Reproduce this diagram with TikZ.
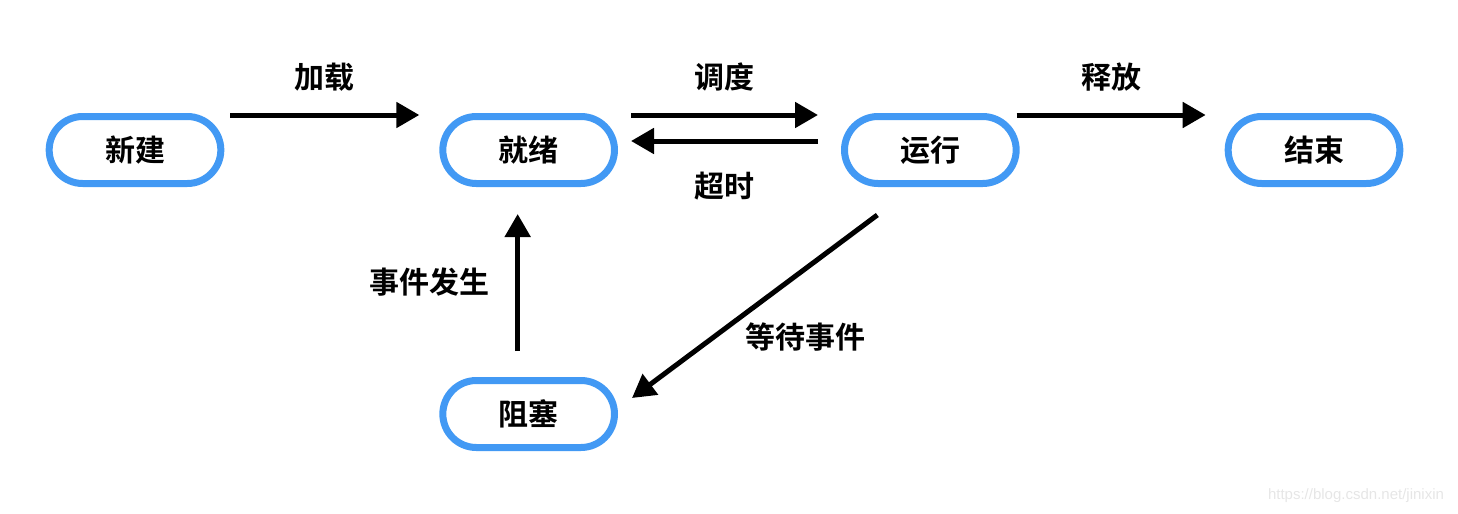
\documentclass[tikz,border=0pt]{standalone}
\usepackage{fontspec}
\setmainfont{Noto Sans CJK SC}[BoldFont={Noto Sans CJK SC Bold}]
\setsansfont{Liberation Sans}
\usetikzlibrary{arrows.meta,positioning,shapes.misc}
\definecolor{stateblue}{HTML}{4299F4}
\definecolor{wmgrey}{HTML}{E6E6E6}
\tikzset{
  stbox/.style={rounded rectangle, draw=stateblue, line width=3.5pt, fill=white, minimum width=92.5pt, minimum height=33.5pt, font=\fontsize{15pt}{18pt}\selectfont\bfseries},
  starrow/.style={-{Triangle[length=11.5pt, width=12.5pt]}, line width=2.5pt, black},
  stlabel/.style={font=\fontsize{15pt}{18pt}\selectfont\bfseries, inner sep=0pt},
}

\begin{document}
\begin{tikzpicture}
  \useasboundingbox (0,0) rectangle (729pt,-257pt);
  % states
  \node[stbox] (xinjian) at (67.5pt,-75pt) {新建};
  \node[stbox, right=107.5pt of xinjian] (jiuxu) {就绪};
  \node[stbox, right=111.5pt of jiuxu] (yunxing) {运行};
  \node[stbox, right=102.5pt of yunxing] (jieshu) {结束};
  \node[stbox, below=95pt of jiuxu] (zuse) {阻塞};
  % transitions
  \draw[starrow] ([xshift=3pt, yshift=17.5pt]xinjian.east) -- node[stlabel, above=10.5pt]{加载} ([xshift=-10pt, yshift=17.5pt]jiuxu.west);
  \draw[starrow] ([xshift=6.5pt, yshift=17.5pt]jiuxu.east) -- node[stlabel, above=10.5pt]{调度} ([xshift=-11.5pt, yshift=17.5pt]yunxing.west);
  \draw[starrow] ([xshift=-11.5pt, yshift=4.5pt]yunxing.west) -- node[stlabel, below=14.5pt]{超时} ([xshift=6.5pt, yshift=4.5pt]jiuxu.east);
  \draw[starrow] ([xshift=-1.5pt, yshift=17.5pt]yunxing.east) -- node[stlabel, above=10.5pt]{释放} ([xshift=-9.5pt, yshift=17.5pt]jieshu.west);
  \draw[starrow] ([xshift=-5.5pt, yshift=13pt]zuse.north) -- node[stlabel, left=13pt]{事件发生} ([xshift=-5.5pt, yshift=-13.5pt]jiuxu.south);
  \draw[starrow] ([xshift=-26.5pt, yshift=-14pt]yunxing.south) -- node[stlabel, xshift=25.5pt, yshift=-15.25pt]{等待事件} ([xshift=7pt, yshift=8pt]zuse.east);
  % watermark
  \node[font=\sffamily\fontsize{7.5pt}{9pt}\selectfont, text=wmgrey, inner sep=0pt] (wm) at (678pt,-248pt) {https://blog.csdn.net/jinixin};
\end{tikzpicture}
\end{document}
